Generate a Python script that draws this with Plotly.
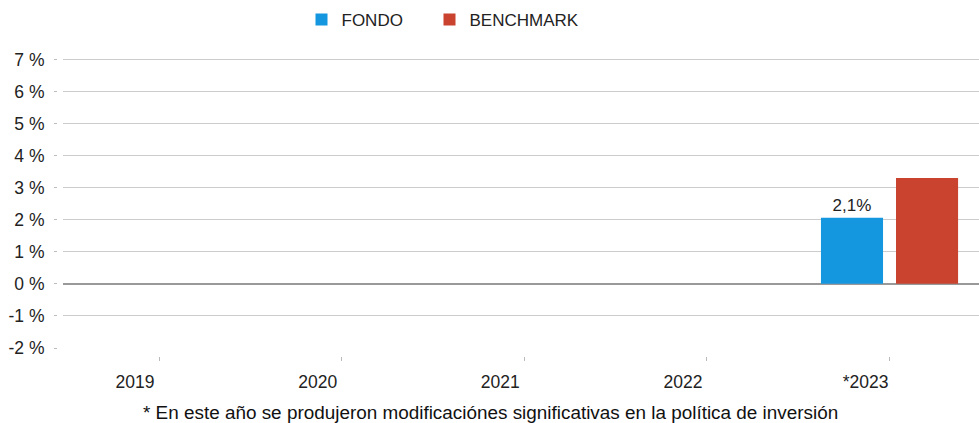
import plotly.graph_objects as go

years = ["2019", "2020", "2021", "2022", "*2023"]
fondo = [None, None, None, None, 2.06]
benchmark = [None, None, None, None, 3.30]
fondo_labels = ["", "", "", "", "2,1%"]
y_ticks = [-2, -1, 0, 1, 2, 3, 4, 5, 6, 7]
y_ticktext = [f"{v} %" for v in y_ticks]
footnote = "* En este año se produjeron modificaciónes significativas en la política de inversión"

W, H = 979, 423
FONT = "Liberation Sans, Arial, sans-serif"

fig = go.Figure()
fig.add_trace(go.Bar(
    x=years, y=fondo, name="FONDO", marker=dict(color="#1597e0", line=dict(width=0)),
    text=fondo_labels, textposition="outside", textfont=dict(size=17, color="#222"),
    cliponaxis=False, legend="legend",
))
fig.add_trace(go.Bar(
    x=years, y=benchmark, name="BENCHMARK", marker=dict(color="#c9432f", line=dict(width=0)),
    legend="legend2",
))

t, b_axis, l_axis = 53, 423 - 356, 57
plot_h = H - t - b_axis
plot_w = W - l_axis
ydom0 = 8 / plot_h
xdom0 = 6 / plot_w

leg_common = dict(orientation="h", xanchor="left", xref="container",
                  y=1 - 20 / 423, yanchor="middle", yref="container",
                  font=dict(size=17, color="#222"))

fig.update_layout(
    width=W, height=H,
    margin=dict(l=l_axis, r=0, t=t, b=b_axis, autoexpand=False),
    paper_bgcolor="white", plot_bgcolor="white",
    font=dict(family=FONT, size=17, color="#222"),
    barmode="group", bargap=0.178, bargroupgap=0.173,
    showlegend=True,
    legend=dict(x=(315 - 13.5) / W, **leg_common),
    legend2=dict(x=(443 - 13.5) / W, **leg_common),
    xaxis=dict(
        domain=[xdom0, 1], anchor="free", position=0,
        range=[-0.526, 4.49], showgrid=False, zeroline=False, showline=False,
        ticks="outside", ticklen=4, tickcolor="#bbb", tickwidth=1,
        ticklabelshift=-24, ticklabelstandoff=6,
        tickfont=dict(size=17.5, color="#222"),
    ),
    yaxis=dict(
        domain=[ydom0, 1], anchor="free", position=0,
        range=[-2, 7.2], tickvals=y_ticks, ticktext=y_ticktext,
        showgrid=True, gridcolor="#cccccc", gridwidth=1,
        zeroline=True, zerolinecolor="#999999", zerolinewidth=2,
        showline=False, ticks="outside", ticklen=3, tickcolor="#bbb",
        ticklabelstandoff=6,
        tickfont=dict(size=17.5, color="#222"),
    ),
)
fig.add_annotation(text=footnote, xref="paper", yref="paper",
                   x=(490 - l_axis) / plot_w, y=(356 - 412) / plot_h,
                   xanchor="center", yanchor="middle", showarrow=False,
                   font=dict(size=18.9, color="#111"))

fig.write_html("out.html", config={"displayModeBar": False},
               post_script="document.body.style.margin='0';document.body.style.overflow='hidden';")
